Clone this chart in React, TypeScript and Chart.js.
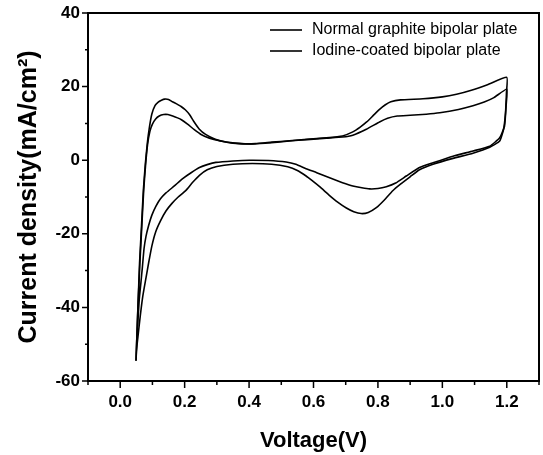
import React, { useEffect, useRef } from "react";
import { Chart, registerables } from "chart.js";

Chart.register(...registerables);

// ---- Data ----
const seriesLabels = ["Normal graphite bipolar plate", "Iodine-coated bipolar plate"];

// Normal graphite bipolar plate (smaller peaks)
const normalV = [
  0.049, 0.055, 0.061, 0.067, 0.073, 0.079, 0.085, 0.092, 0.1, 0.11, 0.121, 0.135, 0.148, 0.163, 0.178, 0.19,
  0.209, 0.23, 0.251, 0.277, 0.308, 0.349, 0.4, 0.45, 0.525, 0.58, 0.64, 0.69, 0.722, 0.764, 0.805, 0.83, 0.86,
  0.9, 0.95, 0.992, 1.05, 1.095, 1.13, 1.16, 1.2,
  1.198, 1.193, 1.178, 1.147, 1.095, 1.033, 0.971, 0.929, 0.888, 0.855, 0.826, 0.8, 0.774, 0.75, 0.722, 0.69,
  0.65, 0.61, 0.577, 0.545, 0.515, 0.46, 0.401, 0.35, 0.297, 0.27, 0.246, 0.22, 0.194, 0.168, 0.142, 0.125,
  0.111, 0.098, 0.088, 0.08, 0.074, 0.069, 0.064, 0.059, 0.054, 0.049,
];
const normalJ = [
  -54.5, -40, -28, -18, -8, -1, 4.3, 7.8, 9.8, 11.2, 12.0, 12.4, 12.4, 12.0, 11.5, 11.0,
  9.8, 8.3, 7.0, 6.0, 5.3, 4.7, 4.4, 4.6, 5.2, 5.6, 6.0, 6.3, 6.8, 8.4, 10.4, 11.4, 12.0,
  12.2, 12.5, 12.9, 13.8, 14.8, 15.8, 17.0, 19.3,
  15.0, 9.3, 6.1, 3.8, 2.5, 1.1, -0.7, -2.0, -4.3, -6.2, -7.2, -7.7, -7.8, -7.5, -7.0, -6.1,
  -4.8, -3.4, -2.3, -1.1, -0.5, -0.1, 0.0, -0.2, -0.6, -1.2, -2.0, -3.4, -5.0, -7.0, -8.9, -10.5,
  -12.5, -15.0, -17.8, -20.7, -24, -28.9, -33.5, -37.9, -45.2, -54.5,
];

// Iodine-coated bipolar plate (larger peaks)
const iodineV = [
  0.049, 0.055, 0.06, 0.066, 0.072, 0.078, 0.084, 0.09, 0.098, 0.108, 0.118, 0.128, 0.138, 0.15, 0.162, 0.175,
  0.189, 0.202, 0.215, 0.228, 0.245, 0.265, 0.295, 0.33, 0.37, 0.42, 0.47, 0.525, 0.58, 0.64, 0.69, 0.722,
  0.745, 0.765, 0.785, 0.805, 0.822, 0.84, 0.87, 0.94, 1.0, 1.044, 1.09, 1.14, 1.2,
  1.199, 1.196, 1.19, 1.178, 1.147, 1.095, 1.033, 0.971, 0.929, 0.9, 0.87, 0.846, 0.82, 0.795, 0.77, 0.748,
  0.725, 0.702, 0.675, 0.65, 0.619, 0.595, 0.577, 0.55, 0.52, 0.47, 0.41, 0.35, 0.3, 0.27, 0.246, 0.225,
  0.204, 0.18, 0.16, 0.142, 0.125, 0.11, 0.098, 0.088, 0.08, 0.07, 0.062, 0.055, 0.05, 0.049,
];
const iodineJ = [
  -54.5, -40, -28, -18, -8, -1, 4.5, 8.6, 12.5, 14.8, 15.8, 16.3, 16.6, 16.5, 15.9, 15.3,
  14.6, 13.7, 12.4, 10.6, 8.5, 7.0, 5.7, 4.9, 4.5, 4.5, 4.9, 5.3, 5.7, 6.1, 6.6, 7.7,
  9.0, 10.4, 12.1, 13.8, 15.0, 15.9, 16.4, 16.7, 17.2, 17.9, 19.0, 20.5, 22.5,
  18.4, 12.9, 8.4, 5.2, 3.5, 1.9, 0.5, -1.1, -2.6, -4.5, -6.5, -8.3, -10.8, -12.9, -14.2, -14.5,
  -14.0, -13.0, -11.4, -9.6, -7.2, -5.5, -4.3, -2.8, -1.8, -1.1, -0.9, -1.1, -1.7, -2.6, -4.1, -6.0,
  -8.2, -10.0, -11.8, -13.8, -16.5, -19.5, -23.4, -28, -32, -37, -42.5, -48, -52, -54.5,
];

const xTickValues = [0, 0.2, 0.4, 0.6, 0.8, 1.0, 1.2];
const yTickValues = [-60, -40, -20, 0, 20, 40];
const xMinorValues = [-0.1, 0.1, 0.3, 0.5, 0.7, 0.9, 1.1, 1.3];
const yMinorValues = [-50, -30, -10, 10, 30];

const FONT = "'Liberation Sans', Arial, Helvetica, sans-serif";

const toPoints = (xs: number[], ys: number[]) => xs.map((x, i) => ({ x, y: ys[i] }));

const framePlugin = {
  id: "frameAndLegend",
  afterDraw(chart: any) {
    const { ctx, chartArea } = chart;
    const { left, right, top, bottom } = chartArea;
    const xs = chart.scales.x;
    const ys = chart.scales.y;
    ctx.save();
    ctx.strokeStyle = "#000";
    ctx.lineWidth = 2;
    ctx.strokeRect(left, top, right - left, bottom - top);
    ctx.lineWidth = 1.5;
    ctx.beginPath();
    xTickValues.forEach((v) => {
      const p = xs.getPixelForValue(v);
      ctx.moveTo(p, bottom);
      ctx.lineTo(p, bottom + 7);
    });
    xMinorValues.forEach((v) => {
      const p = xs.getPixelForValue(v);
      ctx.moveTo(p, bottom);
      ctx.lineTo(p, bottom + 4);
    });
    yTickValues.forEach((v) => {
      const p = ys.getPixelForValue(v);
      ctx.moveTo(left, p);
      ctx.lineTo(left - 6, p);
    });
    yMinorValues.forEach((v) => {
      const p = ys.getPixelForValue(v);
      ctx.moveTo(left, p);
      ctx.lineTo(left - 3, p);
    });
    ctx.stroke();

    // legend
    const labels = chart.data.datasets.map((d: any) => d.label);
    ctx.font = `16px ${FONT}`;
    ctx.fillStyle = "#000";
    ctx.textBaseline = "middle";
    ctx.textAlign = "left";
    ctx.lineWidth = 1.6;
    labels.forEach((t: string, i: number) => {
      const y = top + 17 + i * 21;
      ctx.beginPath();
      ctx.moveTo(270, y);
      ctx.lineTo(302, y);
      ctx.stroke();
      ctx.fillText(t, 312, y);
    });
    ctx.restore();
  },
};

export default function App() {
  const ref = useRef<HTMLCanvasElement | null>(null);
  useEffect(() => {
    if (!ref.current) return;
    const chart = new Chart(ref.current, {
      type: "scatter",
      data: {
        datasets: [
          {
            label: seriesLabels[0],
            data: toPoints(normalV, normalJ),
            showLine: true,
            borderColor: "#000",
            borderWidth: 1.6,
            pointRadius: 0,
            tension: 0.15,
          },
          {
            label: seriesLabels[1],
            data: toPoints(iodineV, iodineJ),
            showLine: true,
            borderColor: "#000",
            borderWidth: 1.6,
            pointRadius: 0,
            tension: 0.15,
          },
        ],
      },
      options: {
        animation: false,
        responsive: false,
        maintainAspectRatio: false,
        layout: { padding: { left: 0, top: 13, right: 4, bottom: 0 } },
        plugins: { legend: { display: false }, tooltip: { enabled: false } },
        scales: {
          x: {
            type: "linear",
            min: -0.1,
            max: 1.3,
            grid: { display: false, drawTicks: false },
            border: { display: false },
            afterBuildTicks: (s: any) => {
              s.ticks = xTickValues.map((v) => ({ value: v }));
            },
            afterFit: (s: any) => {
              s.height = 74;
              s.paddingLeft = 0;
              s.paddingRight = 0;
            },
            ticks: {
              autoSkip: false,
              maxRotation: 0,
              padding: 11,
              color: "#000",
              font: { family: FONT, size: 17, weight: "bold" },
              callback: (v: any) => Number(v).toFixed(1),
            },
            title: {
              display: true,
              text: "Voltage(V)",
              color: "#000",
              font: { family: FONT, size: 22, weight: "bold" },
              padding: { top: 0, bottom: 1 },
            },
          },
          y: {
            type: "linear",
            min: -60,
            max: 40,
            grid: { display: false, drawTicks: false },
            border: { display: false },
            afterBuildTicks: (s: any) => {
              s.ticks = yTickValues.map((v) => ({ value: v }));
            },
            afterFit: (s: any) => {
              s.width = 88;
              s.paddingTop = 0;
              s.paddingBottom = 0;
            },
            ticks: {
              autoSkip: false,
              padding: 8,
              color: "#000",
              font: { family: FONT, size: 17, weight: "bold" },
              callback: (v: any) => String(v),
            },
            title: {
              display: true,
              text: "Current density(mA/cm\u00B2)",
              color: "#000",
              font: { family: FONT, size: 25, weight: "bold" },
              padding: { top: 14, bottom: 0 },
            },
          },
        },
      },
      plugins: [framePlugin],
    });
    return () => chart.destroy();
  }, []);
  return (
    <div style={{ position: "absolute", left: 0, top: 0, width: 543, height: 455, background: "#fff" }}>
      <canvas ref={ref} width={543} height={455} style={{ display: "block" }} />
    </div>
  );
}
